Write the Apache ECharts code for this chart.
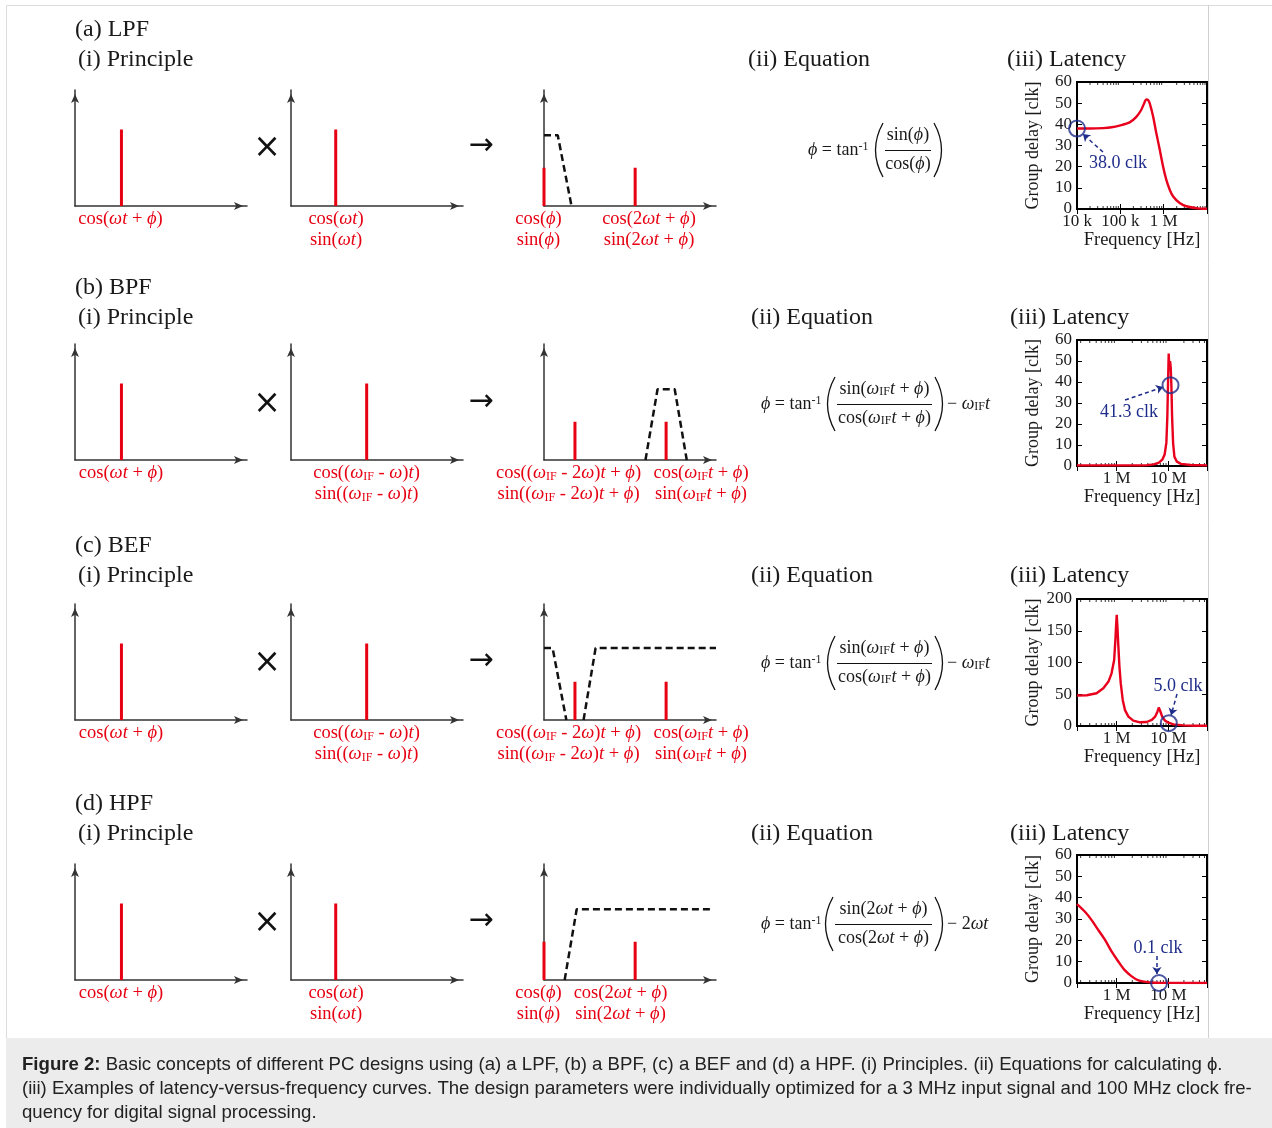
<!DOCTYPE html>
<html><head><meta charset="utf-8">
<script src="https://cdn.jsdelivr.net/npm/echarts@6/dist/echarts.min.js"></script>
<style>html,body{margin:0;padding:0;background:#fff}#c{width:1272px;height:1128px}</style>
</head><body><div id="c"></div>
<script>
// ---------------- data: principle sketches (x: 0..100 along axis, y: 0..100 of axis height) -------------
const lpfInput = [[27, 66]];
const lpfRef = [[26, 66]];
const lpfOutput = [[0, 33], [53, 33]];
const lpfFilter = [[[0, 61], [8, 61], [16, 0]]];
const bpfInput = [[27, 66]];
const bpfRef = [[44, 66]];
const bpfOutput = [[18, 33], [71, 33]];
const bpfFilter = [[[59, 0], [66, 61], [76, 61], [83, 0]]];
const befInput = [[27, 66]];
const befRef = [[44, 66]];
const befOutput = [[18, 33], [71, 33]];
const befFilter = [[[0, 62], [5, 62], [13, 0]], [[23, 0], [30, 62], [100, 62]]];
const hpfInput = [[27, 66]];
const hpfRef = [[26, 66]];
const hpfOutput = [[0, 33], [53, 33]];
const hpfFilter = [[[12, 0], [19, 61], [98, 61]]];

// ---------------- data: latency curves -------------
const lpfFreqHz = [10000, 20000, 40000, 63000, 95500, 164000, 234000, 305000, 355000, 398000, 437000, 479000, 569000, 676000, 813000, 966000, 1148000, 1380000, 1640000, 2344000, 3311000, 6760000, 10000000];
const lpfDelayClk = [38.0, 38.0, 38.2, 38.6, 39.4, 40.9, 43.5, 46.9, 50.0, 51.8, 51.5, 49.8, 43.8, 35.9, 28.0, 20.2, 13.9, 9.1, 6.0, 2.8, 1.3, 0.2, 0.1];
const bpfFreqHz = [170000, 500000, 1000000, 2860000, 3870000, 5240000, 6560000, 7630000, 8470000, 9140000, 9550000, 9850000, 10150000, 10470000, 10790000, 11100000, 11460000, 11800000, 12360000, 13100000, 14600000, 17500000, 27400000, 56000000];
const bpfDelayClk = [0.3, 0.3, 0.3, 0.3, 0.4, 0.8, 1.6, 3.0, 5.5, 11.0, 23.5, 39.4, 53.5, 45.7, 50.0, 47.0, 37.8, 23.5, 10.8, 4.4, 2.1, 1.0, 0.5, 0.3];
const befFreqHz = [170000, 263000, 407000, 550000, 692000, 794000, 891000, 942000, 970000, 1000000, 1030000, 1076000, 1127000, 1197000, 1306000, 1445000, 1683000, 2089000, 2818000, 3802000, 4786000, 5534000, 6138000, 6516000, 6918000, 7586000, 8650000, 10000000, 12590000, 19500000, 35500000, 56000000];
const befDelayClk = [48, 48.5, 51.6, 59.5, 70, 83, 104, 136, 157, 175, 157, 125, 94, 67, 41, 25, 14.7, 8.4, 5.8, 6.3, 9.5, 14.7, 22.6, 29, 24, 14.7, 8.4, 5.3, 2.6, 1.0, 0.5, 0.3];
const hpfFreqHz = [170000, 240000, 324000, 437000, 589000, 794000, 1072000, 1445000, 1950000, 2630000, 3630000, 5620000, 10200000, 56000000];
const hpfDelayClk = [37, 33.5, 29.6, 24.9, 20.3, 14.8, 10.1, 5.9, 3.1, 1.2, 0.5, 0.15, 0.05, 0];

// markers and annotations (data coordinates: [Hz, clk])
const markerPoints = [[10000, 38.0], [11000000, 38.5], [10200000, 4.5], [6600000, 0]];
const noteTexts = ['38.0 clk', '41.3 clk', '5.0 clk', '0.1 clk'];
const notePos = [[88300, 21.7], [1730000, 25.7], [15400000, 63], [6300000, 16.4]];
const arrowFrom = [[39800, 26.9], [1450000, 31.4], [14700000, 50.4], [6000000, 12.7]];
const arrowTo = [[13700, 35.4], [7900000, 37.6], [11300000, 17], [6000000, 4.2]];

// axis ranges / ticks
const freqMinLPF = 10000, freqMaxLPF = 10000000;
const freqMinHF = 170000, freqMaxHF = 56000000;
const freqMinorLPF = [20000, 30000, 40000, 50000, 60000, 70000, 80000, 90000, 200000, 300000, 400000, 500000, 600000, 700000, 800000, 900000, 2000000, 3000000, 4000000, 5000000, 6000000, 7000000, 8000000, 9000000];
const freqMinorHF = [200000, 300000, 400000, 500000, 600000, 700000, 800000, 900000, 2000000, 3000000, 4000000, 5000000, 6000000, 7000000, 8000000, 9000000, 20000000, 30000000, 40000000, 50000000];
const delayMax = [60, 60, 200, 60];
const delayStep = [10, 10, 50, 10];

// ---------------- styles ----------------
const RED = '#e60012', NAVY = '#1f2d8a', INK = '#1a1a1a';
const SERIF = '"Liberation Serif","DejaVu Serif",serif';
const SANS = '"Liberation Sans",Arial,sans-serif';

const R = s => `{r|${s}}`, I = s => `{i|${s}}`, S = s => `{s|${s}}`, P = s => `{p|${s}}`;
function rich(color, size) {
  const small = Math.round(size * 0.64);
  return {
    r: {fill: color, fontSize: size, fontFamily: SERIF},
    i: {fill: color, fontSize: size, fontFamily: SERIF, fontStyle: 'italic'},
    s: {fill: color, fontSize: small, fontFamily: SERIF, verticalAlign: 'bottom'},
    p: {fill: color, fontSize: small, fontFamily: SERIF, verticalAlign: 'top'}
  };
}
function txt(x, y, text, color, size, align) {
  return {type: 'text', x: x, y: y, z: 10, silent: true,
    style: {text: text, rich: rich(color, size), fill: color, fontSize: size, fontFamily: SERIF,
      align: align || 'center', verticalAlign: 'middle'}};
}

// text snippets
const tCosWtPhi = R('cos(') + I('ωt') + R(' + ') + I('ϕ') + R(')');
const tCosWt = R('cos(') + I('ωt') + R(')');
const tSinWt = R('sin(') + I('ωt') + R(')');
const tCosPhi = R('cos(') + I('ϕ') + R(')');
const tSinPhi = R('sin(') + I('ϕ') + R(')');
const tCos2 = R('cos(2') + I('ωt') + R(' + ') + I('ϕ') + R(')');
const tSin2 = R('sin(2') + I('ωt') + R(' + ') + I('ϕ') + R(')');
const tCosIFw = R('cos((') + I('ω') + S('IF') + R(' - ') + I('ω') + R(')') + I('t') + R(')');
const tSinIFw = R('sin((') + I('ω') + S('IF') + R(' - ') + I('ω') + R(')') + I('t') + R(')');
const tCosIF2w = R('cos((') + I('ω') + S('IF') + R(' - 2') + I('ω') + R(')') + I('t') + R(' + ') + I('ϕ') + R(')');
const tSinIF2w = R('sin((') + I('ω') + S('IF') + R(' - 2') + I('ω') + R(')') + I('t') + R(' + ') + I('ϕ') + R(')');
const tCosIF = R('cos(') + I('ω') + S('IF') + I('t') + R(' + ') + I('ϕ') + R(')');
const tSinIF = R('sin(') + I('ω') + S('IF') + I('t') + R(' + ') + I('ϕ') + R(')');

// ---------------- build option ----------------
const grid = [], xAxis = [], yAxis = [], series = [], g = [];

// frame / caption background
g.push({type: 'rect', z: 0, silent: true, shape: {x: 6.5, y: 5.5, width: 1270, height: 1125}, style: {fill: '#fff', stroke: '#dcdcdc', lineWidth: 1}});
g.push({type: 'line', z: 1, silent: true, shape: {x1: 1208.5, y1: 5, x2: 1208.5, y2: 1038}, style: {stroke: '#d0d0d0', lineWidth: 1}});
g.push({type: 'rect', z: 1, silent: true, shape: {x: 6, y: 1038, width: 1266, height: 90}, style: {fill: '#ececec'}});

const principleSets = [
  [lpfInput, lpfRef, lpfOutput],
  [bpfInput, bpfRef, bpfOutput],
  [befInput, befRef, befOutput],
  [hpfInput, hpfRef, hpfOutput]
];
const filterSets = [lpfFilter, bpfFilter, befFilter, hpfFilter];
const panelLefts = [75, 291, 544];
const rowBase = [206, 460, 720, 980];
const rowMid = [148, 404, 663, 923];
const rowTitleY = [30, 288, 546, 804];
const rowTitles = ['(a) LPF', '(b) BPF', '(c) BEF', '(d) HPF'];

function sketchAxis(gi) {
  return {type: 'value', gridIndex: gi, min: 0, max: 100,
    axisLine: {show: true, onZero: false, symbol: ['none', 'arrow'], symbolSize: [6, 9], symbolOffset: [0, -4],
      lineStyle: {color: '#333', width: 1.5}},
    axisTick: {show: false}, axisLabel: {show: false}, splitLine: {show: false}};
}

for (let r = 0; r < 4; r++) {
  for (let p = 0; p < 3; p++) {
    const gi = grid.length;
    grid.push({left: panelLefts[p], top: rowBase[r] - 116, width: 172, height: 116});
    xAxis.push(sketchAxis(gi));
    yAxis.push(sketchAxis(gi));
    principleSets[r][p].forEach(function (sp) {
      series.push({type: 'line', xAxisIndex: gi, yAxisIndex: gi, data: [[sp[0], 0], [sp[0], sp[1]]],
        symbol: 'none', clip: false, silent: true, z: 4, lineStyle: {color: RED, width: 3}});
    });
    if (p === 2) {
      filterSets[r].forEach(function (seg) {
        series.push({type: 'line', xAxisIndex: gi, yAxisIndex: gi, data: seg, symbol: 'none', clip: false, silent: true, z: 3,
          lineStyle: {color: '#111', width: 2.5, type: [7, 4]}});
      });
    }
  }
  // titles
  g.push(txt(75, rowTitleY[r], R(rowTitles[r]), INK, 24, 'left'));
  g.push(txt(78, rowTitleY[r] + 30, R('(i) Principle'), INK, 24, 'left'));
  g.push(txt(r === 0 ? 748 : 751, rowTitleY[r] + 30, R('(ii) Equation'), INK, 24, 'left'));
  g.push(txt(r === 0 ? 1007 : 1010, rowTitleY[r] + 30, R('(iii) Latency'), INK, 24, 'left'));
  // operators
  g.push({type: 'text', x: 267, y: rowMid[r], z: 10, silent: true, style: {text: '×', fontSize: 33, fontFamily: '"DejaVu Sans",sans-serif', fill: '#111', align: 'center', verticalAlign: 'middle'}});
  g.push({type: 'text', x: 481, y: rowMid[r] - 2, z: 10, silent: true, style: {text: '→', fontSize: 30, fontFamily: '"DejaVu Sans",sans-serif', fill: '#111', align: 'center', verticalAlign: 'middle'}});
}

// principle labels
function lbl(x, r, l1, l2) {
  g.push(txt(x, rowBase[r] + 13, l1, RED, 18.5));
  if (l2) g.push(txt(x, rowBase[r] + 34, l2, RED, 18.5));
}
lbl(120.5, 0, tCosWtPhi); lbl(336, 0, tCosWt, tSinWt); lbl(538.5, 0, tCosPhi, tSinPhi); lbl(649, 0, tCos2, tSin2);
lbl(121, 1, tCosWtPhi); lbl(366.5, 1, tCosIFw, tSinIFw); lbl(568.5, 1, tCosIF2w, tSinIF2w); lbl(701, 1, tCosIF, tSinIF);
lbl(121, 2, tCosWtPhi); lbl(366.5, 2, tCosIFw, tSinIFw); lbl(568.5, 2, tCosIF2w, tSinIF2w); lbl(701, 2, tCosIF, tSinIF);
lbl(121, 3, tCosWtPhi); lbl(336, 3, tCosWt, tSinWt); lbl(538.5, 3, tCosPhi, tSinPhi); lbl(620.5, 3, tCos2, tSin2);

// equations
function paren(x, yc, dir) {
  return {type: 'bezierCurve', z: 10, silent: true,
    shape: {x1: x, y1: yc - 27, cpx1: x - dir * 15, cpy1: yc, x2: x, y2: yc + 27},
    style: {stroke: '#111', lineWidth: 1.3, fill: null}};
}
function equation(x0, yc, fx1, fx2, num, den, tail, tailX) {
  g.push(txt(x0, yc, I('ϕ') + R(' = tan') + P('-1'), INK, 18, 'left'));
  g.push(paren(fx1 - 1, yc, 1));
  g.push(paren(fx2 + 2, yc, -1));
  g.push({type: 'line', z: 10, silent: true, shape: {x1: fx1 + 1, y1: yc + 0.5, x2: fx2 - 1, y2: yc + 0.5}, style: {stroke: '#111', lineWidth: 1}});
  g.push(txt((fx1 + fx2) / 2, yc - 15, num, INK, 18));
  g.push(txt((fx1 + fx2) / 2, yc + 14, den, INK, 18));
  if (tail) g.push(txt(tailX, yc, tail, INK, 18, 'left'));
}
const tailIF = R('− ') + I('ω') + S('IF') + I('t');
const tail2 = R('− 2') + I('ωt');
equation(808, 150, 884, 932, R('sin(') + I('ϕ') + R(')'), R('cos(') + I('ϕ') + R(')'));
equation(761, 404, 836, 933, tSinIF, tCosIF, tailIF, 947);
equation(761, 663, 836, 933, tSinIF, tCosIF, tailIF, 947);
equation(761, 924, 834, 933, tSin2, tCos2, tail2, 947);

// latency panels
const latTop = [82, 340, 599, 855];
const latH = [127, 126, 127, 128];
const latFreq = [lpfFreqHz, bpfFreqHz, befFreqHz, hpfFreqHz];
const latDelay = [lpfDelayClk, bpfDelayClk, befDelayClk, hpfDelayClk];
const latSmooth = [0.3, false, false, 0.3];

function freqLabel(hideTop) {
  return function (v) {
    const e = Math.log10(v);
    if (Math.abs(e - Math.round(e)) > 1e-6) return '';
    const k = Math.round(e);
    if (hideTop && k >= 7) return '';
    if (k >= 6) return Math.round(v / 1e6) + ' M';
    return Math.round(v / 1e3) + ' k';
  };
}

for (let r = 0; r < 4; r++) {
  const gi = grid.length;
  const fmin = r === 0 ? freqMinLPF : freqMinHF;
  const fmax = r === 0 ? freqMaxLPF : freqMaxHF;
  const minors = r === 0 ? freqMinorLPF : freqMinorHF;
  grid.push({left: 1077, top: latTop[r], width: 130, height: latH[r], show: true, borderColor: '#000', borderWidth: 2, backgroundColor: 'rgba(0,0,0,0)', z: 2});
  const xi = xAxis.length;
  const baseX = {type: 'log', logBase: 10, gridIndex: gi, min: fmin, max: fmax,
    axisLine: {show: false}, splitLine: {show: false}, minorTick: {show: false}};
  xAxis.push(Object.assign({}, baseX, {position: 'bottom',
    axisTick: {show: true, inside: true, length: 5, lineStyle: {color: '#000', width: 1}},
    axisLabel: {show: true, formatter: freqLabel(r === 0), fontFamily: SERIF, fontSize: 17, color: INK, margin: 4, showMinLabel: true, showMaxLabel: true}}));
  xAxis.push(Object.assign({}, baseX, {position: 'top',
    axisTick: {show: true, inside: true, length: 5, lineStyle: {color: '#000', width: 1}},
    axisLabel: {show: false}}));
  const yi = yAxis.length;
  const baseY = {type: 'value', gridIndex: gi, min: 0, max: delayMax[r], interval: delayStep[r],
    axisLine: {show: false}, splitLine: {show: false},
    axisTick: {show: true, inside: true, length: 5, lineStyle: {color: '#000', width: 1}}};
  yAxis.push(Object.assign({}, baseY, {position: 'left',
    axisLabel: {show: true, fontFamily: SERIF, fontSize: 17, color: INK, margin: 5}}));
  yAxis.push(Object.assign({}, baseY, {position: 'right', axisLabel: {show: false}}));

  // minor log ticks (bottom and top edges)
  series.push({type: 'scatter', xAxisIndex: xi, yAxisIndex: yi, silent: true, clip: false, z: 5,
    data: minors.map(f => [f, 0]), symbol: 'rect', symbolSize: [1, 3], symbolOffset: [0, -1.5], itemStyle: {color: '#000'}});
  series.push({type: 'scatter', xAxisIndex: xi, yAxisIndex: yi, silent: true, clip: false, z: 5,
    data: minors.map(f => [f, delayMax[r]]), symbol: 'rect', symbolSize: [1, 3], symbolOffset: [0, 1.5], itemStyle: {color: '#000'}});

  // curve
  series.push({type: 'line', xAxisIndex: xi, yAxisIndex: yi, silent: true, z: 6, symbol: 'none',
    smooth: latSmooth[r], data: latFreq[r].map((f, i) => [f, latDelay[r][i]]),
    lineStyle: {color: '#e8001c', width: 2.4}});

  // marker circle + annotation
  series.push({type: 'scatter', xAxisIndex: xi, yAxisIndex: yi, silent: true, clip: false, z: 8,
    data: [markerPoints[r]], symbol: 'circle', symbolSize: 16,
    itemStyle: {color: 'rgba(0,0,0,0)', borderColor: NAVY, borderWidth: 2},
    markLine: {silent: true, symbol: ['none', 'arrow'], symbolSize: 7, animation: false,
      label: {show: false}, lineStyle: {color: NAVY, width: 1.5, type: [4, 3]},
      data: [[{coord: arrowFrom[r]}, {coord: arrowTo[r]}]]},
    markPoint: {silent: true, symbol: 'circle', symbolSize: 1, itemStyle: {color: 'rgba(0,0,0,0)'},
      label: {show: true, position: 'inside', formatter: noteTexts[r], color: NAVY, fontSize: 18, fontFamily: SERIF},
      data: [{coord: notePos[r]}]}});

  // axis names
  const cy = latTop[r] + latH[r] / 2;
  g.push({type: 'text', x: 1033, y: cy, rotation: Math.PI / 2, z: 10, silent: true,
    style: {text: 'Group delay [clk]', fontSize: 18, fontFamily: SERIF, fill: INK, align: 'center', verticalAlign: 'middle'}});
  g.push({type: 'text', x: 1142, y: latTop[r] + latH[r] + 31, z: 10, silent: true,
    style: {text: 'Frequency [Hz]', fontSize: 18.5, fontFamily: SERIF, fill: INK, align: 'center', verticalAlign: 'middle'}});
}

// caption
const captionLines = [
  '{b|Figure 2:}{n| Basic concepts of different PC designs using (a) a LPF, (b) a BPF, (c) a BEF and (d) a HPF. (i) Principles. (ii) Equations for calculating ϕ.}',
  '{n|(iii) Examples of latency-versus-frequency curves. The design parameters were individually optimized for a 3 MHz input signal and 100 MHz clock fre-}',
  '{n|quency for digital signal processing.}'
];
const CAP = 18.6;
captionLines.forEach(function (line, i) {
  g.push({type: 'text', x: 22, y: 1065 + i * 24, z: 10, silent: true,
    style: {text: line, align: 'left', verticalAlign: 'middle', fill: '#222', fontSize: CAP, fontFamily: SANS,
      rich: {b: {fontWeight: 'bold', fill: '#222', fontSize: CAP, fontFamily: SANS},
             n: {fill: '#222', fontSize: CAP, fontFamily: SANS}}}});
});

const chart = echarts.init(document.getElementById('c'), null, {renderer: 'canvas', width: 1272, height: 1128});
chart.setOption({
  backgroundColor: '#ffffff',
  animation: false,
  grid: grid, xAxis: xAxis, yAxis: yAxis, series: series,
  graphic: {elements: g}
});
</script>
</body></html>
